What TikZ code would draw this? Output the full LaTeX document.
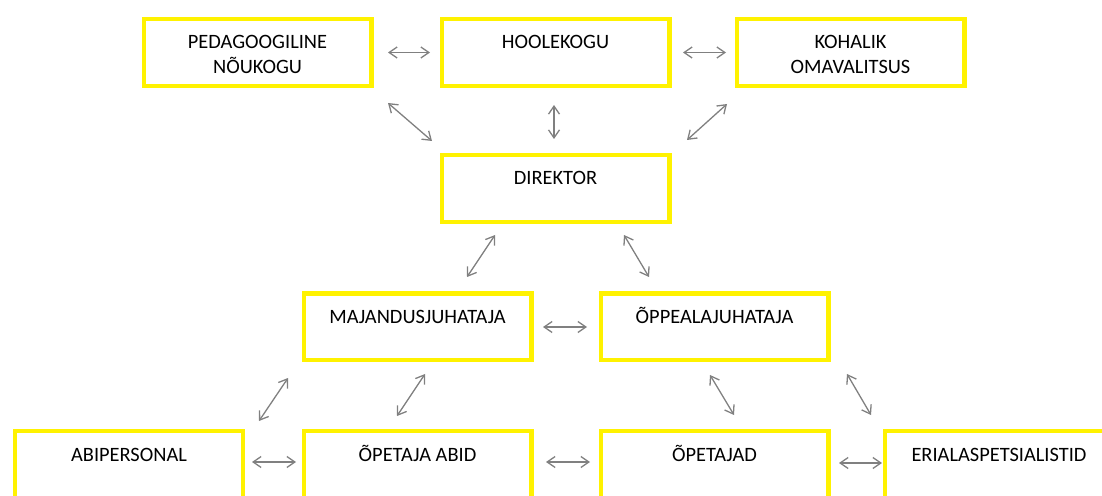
\documentclass[tikz,border=0pt]{standalone}
\usepackage{fontspec}
\setmainfont{Carlito}
\usetikzlibrary{positioning, arrows.meta}
\definecolor{linkgray}{RGB}{128,128,128}
\tikzset{unit/.style={ % Sets the properties for each box
draw=yellow, line width=2.2pt,
minimum width=113.8pt, minimum height=33.3pt,
align=center, font=\fontsize{10.2pt}{12.5pt}\selectfont,
text height=7pt, text depth=10.5pt}, % Keeps the text near the top edge
twolines/.style={text height=21.5pt, text depth=0pt}, % Same, for boxes with two lines
every edge/.style={ % Sets the properties for each arrow
draw=linkgray, line width=0.65pt,
>={Straight Barb[length=4pt,width=5.5pt]}, <->}}

\begin{document}
\begin{tikzpicture}[x=0.5pt, y=0.5pt]
    \useasboundingbox (0,0) rectangle (1102,-496);
    \clip (0,0) rectangle (1102,-496);

    \node[unit, twolines] (ped) at (257.5,-52.5) {PEDAGOOGILINE\\NÕUKOGU};
    \node[unit, right=33pt of ped] (hool) {HOOLEKOGU};
    \node[unit, twolines, right=31.5pt of hool] (koh) {KOHALIK\\OMAVALITSUS};
    \node[unit, below=32.5pt of hool] (dir) {DIREKTOR};
    \node[unit, below=33.75pt of dir, xshift=-69pt] (maj) {MAJANDUSJUHATAJA};
    \node[unit, right=32.5pt of maj] (opp) {ÕPPEALAJUHATAJA};
    \node[unit, below=33.25pt of maj] (oa) {ÕPETAJA ABID};
    \node[unit, below=33.25pt of opp] (op) {ÕPETAJAD};
    \node[unit, left=28.25pt of oa] (abi) {ABIPERSONAL};
    \node[unit, right=26.25pt of op] (eri) {ERIALASPETSIALISTID};

    \draw ([shift={(14.5,0)}]ped.east) edge ([shift={(-9.5,0)}]hool.west);
    \draw ([shift={(11.5,0)}]hool.east) edge ([shift={(-8.5,0)}]koh.west);
    \draw ([shift={(14.5,-15)}]ped.south east) edge ([shift={(-7.5,12)}]dir.north west);
    \draw ([shift={(-1.5,-17)}]hool.south) edge ([shift={(-1.5,14)}]dir.north);
    \draw ([shift={(-7.5,-16)}]koh.south west) edge ([shift={(15.5,13)}]dir.north east);

    \draw ([shift={(-60.5,-11)}]dir.south) edge ([shift={(49.5,14.5)}]maj.north);
    \draw ([shift={(68.5,-11)}]dir.south) edge ([shift={(-65.5,14.5)}]opp.north);
    \draw ([shift={(9.5,0)}]maj.east) edge ([shift={(-11.5,0)}]opp.west);

    \draw ([shift={(-13.5,-15.5)}]maj.south west) edge ([shift={(14,8)}]abi.north east);
    \draw ([shift={(7.5,-11.5)}]maj.south) edge ([shift={(-20.5,13)}]oa.north);
    \draw ([shift={(-4.5,-12.5)}]opp.south) edge ([shift={(19.5,14)}]op.north);
    \draw ([shift={(16.5,-11.5)}]opp.south east) edge ([shift={(-12,14)}]eri.north west);

    \draw ([shift={(7,2.5)}]abi.east) edge ([shift={(-5.5,2.5)}]oa.west);
    \draw ([shift={(12.5,2.5)}]oa.east) edge ([shift={(-8.5,2.5)}]op.west);
    \draw ([shift={(8.5,1.5)}]op.east) edge ([shift={(-1,1.5)}]eri.west);

\end{tikzpicture}
\end{document}
